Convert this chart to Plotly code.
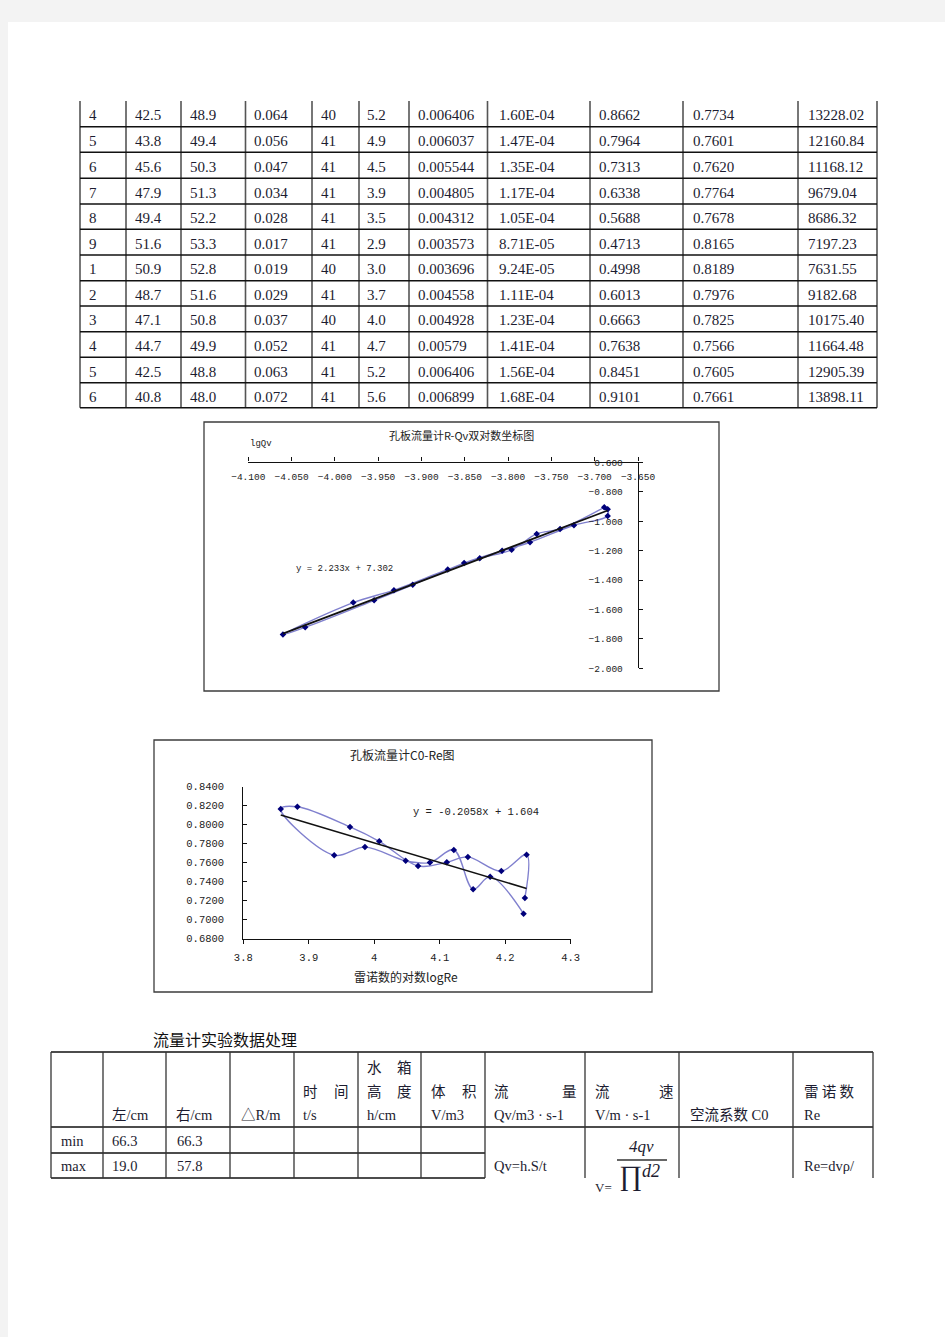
import plotly.graph_objects as go

# ---------------- data: top table (continuation of experiment table) ----------------
run_no    = ["4", "5", "6", "7", "8", "9", "1", "2", "3", "4", "5", "6"]
left_cm   = ["42.5", "43.8", "45.6", "47.9", "49.4", "51.6", "50.9", "48.7", "47.1", "44.7", "42.5", "40.8"]
right_cm  = ["48.9", "49.4", "50.3", "51.3", "52.2", "53.3", "52.8", "51.6", "50.8", "49.9", "48.8", "48.0"]
delta_R   = ["0.064", "0.056", "0.047", "0.034", "0.028", "0.017", "0.019", "0.029", "0.037", "0.052", "0.063", "0.072"]
time_s    = ["40", "41", "41", "41", "41", "41", "40", "41", "40", "41", "41", "41"]
height_cm = ["5.2", "4.9", "4.5", "3.9", "3.5", "2.9", "3.0", "3.7", "4.0", "4.7", "5.2", "5.6"]
volume_m3 = ["0.006406", "0.006037", "0.005544", "0.004805", "0.004312", "0.003573",
             "0.003696", "0.004558", "0.004928", "0.00579", "0.006406", "0.006899"]
flow_Qv   = ["1.60E-04", "1.47E-04", "1.35E-04", "1.17E-04", "1.05E-04", "8.71E-05",
             "9.24E-05", "1.11E-04", "1.23E-04", "1.41E-04", "1.56E-04", "1.68E-04"]
velocity  = ["0.8662", "0.7964", "0.7313", "0.6338", "0.5688", "0.4713",
             "0.4998", "0.6013", "0.6663", "0.7638", "0.8451", "0.9101"]
coef_C0   = ["0.7734", "0.7601", "0.7620", "0.7764", "0.7678", "0.8165",
             "0.8189", "0.7976", "0.7825", "0.7566", "0.7605", "0.7661"]
reynolds  = ["13228.02", "12160.84", "11168.12", "9679.04", "8686.32", "7197.23",
             "7631.55", "9182.68", "10175.40", "11664.48", "12905.39", "13898.11"]

# ---------------- data: chart 1 (lg Qv vs lg R) ----------------
lgQv = [-3.689, -3.740, -3.767, -3.7959, -3.8327, -3.8697, -3.9318, -3.9788, -4.0600,
        -4.0343, -3.9547, -3.9101, -3.8508, -3.8069, -3.7747, -3.724, -3.685, -3.685]
lgR  = [-0.905, -1.052, -1.086, -1.1938, -1.2518, -1.3279, -1.4685, -1.5528, -1.7696,
        -1.7212, -1.5376, -1.4318, -1.2840, -1.2007, -1.1427, -1.027, -0.964, -0.918]
fit1_slope, fit1_icpt = 2.233, 7.302
fit1_label = "y = 2.233x + 7.302"
chart1_title = "孔板流量计R-Qv双对数坐标图"
chart1_ylabel = "lgQv"

# ---------------- data: chart 2 (C0 vs lg Re) ----------------
lgRe = [4.228, 4.177, 4.151, 4.1215, 4.0850, 4.0480, 3.9858, 3.9388, 3.8572,
        3.8826, 3.9630, 4.0076, 4.0669, 4.1108, 4.1430, 4.194, 4.2326, 4.230]
C0   = [0.7063, 0.7453, 0.7320, 0.7734, 0.7601, 0.7620, 0.7764, 0.7678, 0.8165,
        0.8189, 0.7976, 0.7825, 0.7566, 0.7605, 0.7661, 0.7512, 0.7684, 0.7228]
fit2_slope, fit2_icpt = -0.2058, 1.604
fit2_label = "y = -0.2058x + 1.604"
chart2_title = "孔板流量计C0-Re图"
chart2_xlabel = "雷诺数的对数logRe"
chart2_xticks = [3.8, 3.9, 4.0, 4.1, 4.2, 4.3]
chart2_xticktext = ["3.8", "3.9", "4", "4.1", "4.2", "4.3"]

# ---------------- data: bottom table ----------------
bottom_title = "流量计实验数据处理"
bt_rowlabels = ["min", "max"]
bt_left = ["66.3", "19.0"]
bt_right = ["66.3", "57.8"]

# ---------------- helpers ----------------
W, H = 945, 1337
SERIF = "Liberation Serif, Times New Roman, Noto Sans CJK SC"
CJK = "Noto Sans CJK SC"
MONO = "Liberation Mono, DejaVu Sans Mono, monospace"
TXT = "#1c1c30"


def X(px):
    return px / W


def Y(py):
    return 1 - py / H


shapes = []
annotations = []


def line(x0, y0, x1, y1, color="#111", width=1.5):
    shapes.append(dict(type="line", xref="paper", yref="paper",
                       x0=X(x0), y0=Y(y0), x1=X(x1), y1=Y(y1),
                       line=dict(color=color, width=width)))


def rect(x0, y0, x1, y1, color="#444", width=1.2, fill=None, layer="above"):
    shapes.append(dict(type="rect", xref="paper", yref="paper",
                       x0=X(x0), y0=Y(y1), x1=X(x1), y1=Y(y0),
                       line=dict(color=color, width=width),
                       fillcolor=fill if fill else "rgba(0,0,0,0)", layer=layer))


def txt(s, px, py, size=15, family=SERIF, xanchor="left", color=TXT, italic=False):
    annotations.append(dict(text=s, x=X(px), y=Y(py), xref="paper", yref="paper",
                            xanchor=xanchor, yanchor="middle", showarrow=False,
                            borderpad=0,
                            font=dict(size=size, family=family, color=color,
                                      style="italic" if italic else "normal")))


# page
shapes.append(dict(type="rect", xref="paper", yref="paper", x0=X(8), y0=0, x1=1, y1=Y(22),
                   fillcolor="white", line=dict(width=0), layer="below"))

# ---------------- top table ----------------
col_edges = [80, 126, 181, 245.5, 312, 359, 409, 487.5, 590, 683, 798, 877]
row_lines = [126.7, 152.3, 178.3, 204, 229.3, 255, 280.7, 306, 331.7, 357.3, 382.7, 407.8]
text_x = [88, 134, 189, 253, 320, 366, 417, 498, 598, 692, 807]
top_top = 101
columns = [run_no, left_cm, right_cm, delta_R, time_s, height_cm, volume_m3,
           flow_Qv, velocity, coef_C0, reynolds]
for xe in col_edges:
    line(xe, top_top, xe, row_lines[-1], color="#555", width=1.6)
for yl in row_lines:
    line(col_edges[0], yl, col_edges[-1], yl, color="#111", width=1.5)
prev = top_top
for r, yl in enumerate(row_lines):
    cy = (prev + yl) / 2 + 1.5
    for c, col in enumerate(columns):
        txt(col[r], text_x[c], cy)
    prev = yl

# ---------------- chart frames ----------------
rect(204, 422, 719, 691, color="#3c3c3c", width=1.3)
rect(154, 740, 652, 992, color="#3c3c3c", width=1.3)

# ---------------- chart 1 traces ----------------
fig = go.Figure()
fig.add_trace(go.Scatter(x=lgQv, y=lgR, mode="lines+markers", xaxis="x", yaxis="y",
                         line=dict(color="rgba(85,85,190,0.75)", width=1.4, shape="spline", smoothing=1),
                         marker=dict(symbol="diamond", size=5, color="#00007a"),
                         showlegend=False, hoverinfo="skip"))
x1a, x1b = min(lgQv), max(lgQv)
fig.add_trace(go.Scatter(x=[x1a, x1b], y=[fit1_slope * x1a + fit1_icpt, fit1_slope * x1b + fit1_icpt],
                         mode="lines", xaxis="x", yaxis="y",
                         line=dict(color="#111", width=1.8), showlegend=False, hoverinfo="skip"))

# ---------------- chart 2 traces ----------------
fig.add_trace(go.Scatter(x=lgRe, y=C0, mode="lines+markers", xaxis="x2", yaxis="y2",
                         line=dict(color="rgba(85,85,190,0.75)", width=1.4, shape="spline", smoothing=1),
                         marker=dict(symbol="diamond", size=5, color="#00007a"),
                         showlegend=False, hoverinfo="skip"))
x2a, x2b = min(lgRe), max(lgRe)
fig.add_trace(go.Scatter(x=[x2a, x2b], y=[fit2_slope * x2a + fit2_icpt, fit2_slope * x2b + fit2_icpt],
                         mode="lines", xaxis="x2", yaxis="y2",
                         line=dict(color="#111", width=1.6), showlegend=False, hoverinfo="skip"))

# chart texts
txt(chart1_title, 461, 435, size=11, family=CJK, xanchor="center", color="#222")
txt(chart1_ylabel, 261, 444, size=9, family=MONO, xanchor="center", color="#222")
txt(fit1_label, 344, 569, size=9, family=MONO, xanchor="center", color="#222")
txt(chart2_title, 402, 755, size=12, family=CJK, xanchor="center", color="#222")
txt(chart2_xlabel, 406, 977, size=12, family=CJK, xanchor="center", color="#222")
txt(fit2_label, 476, 812, size=10.5, family=MONO, xanchor="center", color="#222")

# ---------------- bottom table ----------------
txt(bottom_title, 152, 1039, size=16, family=CJK, color="#111")
bx = [51, 103, 166, 230, 294, 358, 421, 485, 585, 679, 793, 873]
b_top, b_hdr, b_mid, b_bot = 1052, 1127, 1153, 1178
line(bx[0], b_top, bx[-1], b_top)
line(bx[0], b_hdr, bx[-1], b_hdr)
line(bx[0], b_mid, bx[7], b_mid)
line(bx[0], b_bot, bx[7], b_bot)
for xe in bx:
    line(xe, b_top, xe, b_bot, color="#333", width=1.3)

yA, yB, yC = 1066, 1090, 1115
HS = 14.5
txt("左/cm", 111, yC, size=HS)
txt("右/cm", 175, yC, size=HS)
txt("△R/m", 240, yC, size=HS)
txt("时", 302, yB, size=HS, family=CJK)
txt("间", 333, yB, size=HS, family=CJK)
txt("t/s", 302, yC, size=HS)
txt("水", 366, yA, size=HS, family=CJK)
txt("箱", 396, yA, size=HS, family=CJK)
txt("高", 366, yB, size=HS, family=CJK)
txt("度", 396, yB, size=HS, family=CJK)
txt("h/cm", 366, yC, size=HS)
txt("体", 430, yB, size=HS, family=CJK)
txt("积", 461, yB, size=HS, family=CJK)
txt("V/m3", 430, yC, size=HS)
txt("流", 493, yB, size=HS, family=CJK)
txt("量", 561, yB, size=HS, family=CJK)
txt("Qv/m3 · s-1", 493, yC, size=HS)
txt("流", 594, yB, size=HS, family=CJK)
txt("速", 658, yB, size=HS, family=CJK)
txt("V/m · s-1", 594, yC, size=HS)
txt("空流系数 C0", 689, yC, size=HS)
txt("雷 诺 数", 803, yB, size=HS, family=CJK)
txt("Re", 803, yC, size=HS)

for i, lab in enumerate(bt_rowlabels):
    cy = 1141 if i == 0 else 1166
    txt(lab, 60, cy, size=HS)
    txt(bt_left[i], 111, cy, size=HS)
    txt(bt_right[i], 176, cy, size=HS)

txt("Qv=h.S/t", 493, 1166, size=HS)
txt("Re=dvρ/", 803, 1166, size=HS)
txt("4qv", 641, 1146, size=17, italic=True, xanchor="center")
line(617, 1160, 667, 1160, color="#333", width=1.6)
txt("∏", 630, 1176, size=28, xanchor="center")
txt("d2", 651, 1171, size=18, italic=True, xanchor="center")
txt("V=", 603, 1187, size=13, xanchor="center")

# ---------------- layout ----------------
common = dict(showgrid=False, zeroline=False, automargin=False, showline=True,
              linecolor="#111", linewidth=1.2, tickcolor="#111", ticklen=4)
fig.update_layout(
    width=W, height=H, margin=dict(l=0, r=0, t=0, b=0, pad=0, autoexpand=False),
    paper_bgcolor="#f3f3f3", plot_bgcolor="rgba(0,0,0,0)",
    shapes=shapes, annotations=annotations, showlegend=False,
    xaxis=dict(domain=[X(248.3), X(638)], range=[-4.1, -3.65], side="top", anchor="y",
               tick0=-4.1, dtick=0.05, tickformat=".3f", ticks="outside",
               ticklabelposition="inside", ticklabeloverflow="allow", ticklabelstandoff=10,
               tickfont=dict(family=MONO, size=9.5, color="#222"), **common),
    yaxis=dict(domain=[Y(668.3), Y(462.5)], range=[-2.0, -0.6], side="right", anchor="x",
               tick0=-2.0, dtick=0.2, tickformat=".3f", ticks="outside",
               ticklabelposition="inside", ticklabeloverflow="allow", ticklabelstandoff=14,
               tickfont=dict(family=MONO, size=9.5, color="#222"), **common),
    xaxis2=dict(domain=[X(243.3), X(570.7)], range=[3.8, 4.3], anchor="y2",
                tickvals=chart2_xticks, ticktext=chart2_xticktext, ticks="outside",
                ticklabelstandoff=5,
                tickfont=dict(family=MONO, size=10.5, color="#222"), **common),
    yaxis2=dict(domain=[Y(938.7), Y(786.7)], range=[0.68, 0.84], anchor="x2",
                tick0=0.68, dtick=0.02, tickformat=".4f", ticks="inside",
                ticklabelstandoff=16,
                tickfont=dict(family=MONO, size=10.5, color="#222"), **common),
)

fig.write_html("out.html")
